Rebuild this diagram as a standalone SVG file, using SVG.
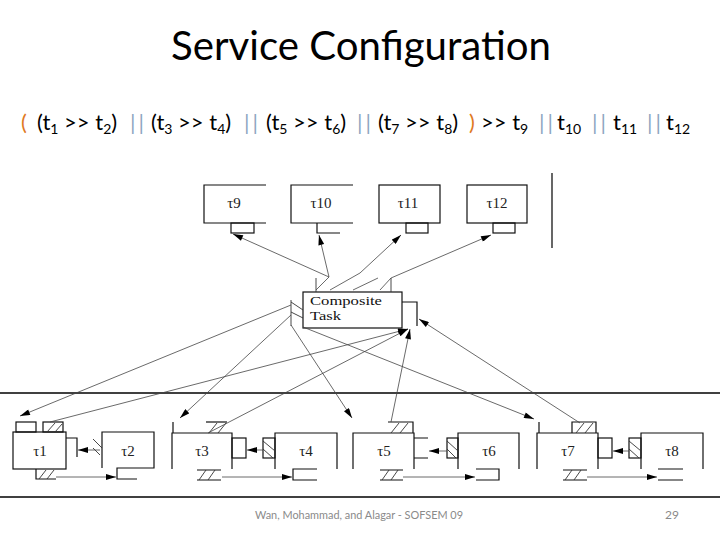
<svg xmlns="http://www.w3.org/2000/svg" width="720" height="540" viewBox="0 0 720 540">
<style>
.ln{fill:none;stroke:#111;stroke-width:1.2}
.ht{fill:none;stroke:#333;stroke-width:0.9}
.cn{fill:none;stroke:#444;stroke-width:0.8}
.lb{font-family:"Liberation Serif","DejaVu Serif",serif;font-size:15px;fill:#222;text-anchor:middle}
.ft{font-family:Lato,"Liberation Sans",sans-serif}
.bar{fill:#8FA8C2}
.org{fill:#E07A1F}
</style>
<defs>
<marker id="ah" viewBox="0 0 10 6" refX="10" refY="3" markerWidth="11" markerHeight="6" orient="auto" markerUnits="userSpaceOnUse">
<path d="M0,0 L10,3 L0,6 z" fill="#000"/>
</marker>
</defs>
<rect width="720" height="540" fill="#fff"/>

<text class="ft" x="361" y="60" font-size="40" text-anchor="middle" textLength="380" lengthAdjust="spacingAndGlyphs" fill="#000">Service Configuration</text>

<g id="formula" class="ft" font-size="22" fill="#000">
<text x="21" y="130" class="org">(</text>
<text x="37" y="130">(t<tspan font-size="14" dy="4">1</tspan><tspan dy="-4"> &gt;&gt; t</tspan><tspan font-size="14" dy="4">2</tspan><tspan dy="-4">)</tspan></text>
<text x="130" y="130" class="bar" letter-spacing="3">||</text>
<text x="151" y="130">(t<tspan font-size="14" dy="4">3</tspan><tspan dy="-4"> &gt;&gt; t</tspan><tspan font-size="14" dy="4">4</tspan><tspan dy="-4">)</tspan></text>
<text x="244" y="130" class="bar" letter-spacing="3">||</text>
<text x="266" y="130">(t<tspan font-size="14" dy="4">5</tspan><tspan dy="-4"> &gt;&gt; t</tspan><tspan font-size="14" dy="4">6</tspan><tspan dy="-4">)</tspan></text>
<text x="357" y="130" class="bar" letter-spacing="3">||</text>
<text x="378" y="130">(t<tspan font-size="14" dy="4">7</tspan><tspan dy="-4"> &gt;&gt; t</tspan><tspan font-size="14" dy="4">8</tspan><tspan dy="-4">)</tspan></text>
<text x="469" y="130" class="org">)</text>
<text x="481" y="130">&gt;&gt; t<tspan font-size="14" dy="4">9</tspan></text>
<text x="539" y="130" class="bar" letter-spacing="3">||</text>
<text x="557" y="130">t<tspan font-size="14" dy="4">10</tspan></text>
<text x="592" y="130" class="bar" letter-spacing="3">||</text>
<text x="613" y="130">t<tspan font-size="14" dy="4">11</tspan></text>
<text x="647" y="130" class="bar" letter-spacing="3">||</text>
<text x="666" y="130">t<tspan font-size="14" dy="4">12</tspan></text>
</g>

<!-- frame lines -->
<g id="frame">
<line x1="0" y1="393" x2="720" y2="393" stroke="#000" stroke-width="1.4"/>
<line x1="0" y1="497" x2="720" y2="497" stroke="#000" stroke-width="1.4"/>
<line x1="552" y1="173" x2="552" y2="248" stroke="#000" stroke-width="1.2"/>
</g>

<!-- top nodes -->
<g id="t9"><path class="ln" d="M266,185 H204 V223 H266"/><rect class="ln" x="231" y="223" width="23" height="10"/><text class="lb" x="234" y="208">τ9</text></g>
<g id="t10"><path class="ln" d="M353,185 H291 V223 H353 M317,223 V233 H340"/><text class="lb" x="321" y="208">τ10</text></g>
<g id="t11"><rect class="ln" x="379" y="185" width="61" height="38"/><rect class="ln" x="406" y="223" width="22" height="10"/><text class="lb" x="408" y="208">τ11</text></g>
<g id="t12"><rect class="ln" x="467" y="185" width="60" height="38"/><rect class="ln" x="493" y="223" width="22" height="10"/><text class="lb" x="497" y="208">τ12</text></g>

<!-- composite -->
<g id="composite">
<rect class="ln" x="303" y="292" width="99" height="36"/>
<path class="ln" d="M402,302 H417 V326"/>
<path class="ht" d="M316,278 V292 M391,278 V292 M291,300 V326 M291,302 L303,310 M291,312 L303,318"/>
<text x="310" y="305" font-family="Liberation Serif,DejaVu Serif,serif" font-size="12" textLength="72" lengthAdjust="spacingAndGlyphs" fill="#111">Composite</text>
<text x="310" y="320" font-family="Liberation Serif,DejaVu Serif,serif" font-size="12" textLength="31" lengthAdjust="spacingAndGlyphs" fill="#111">Task</text>
</g>

<!-- bottom group 1 -->
<g id="t1">
<rect class="ln" x="13" y="432" width="53" height="37"/>
<rect class="ln" x="16" y="422" width="20" height="10"/>
<rect class="ln" x="43" y="422" width="20" height="10"/>
<path class="ht" d="M47,432 L55,423 M55,432 L62,424"/>
<path class="ln" d="M66,438 H77 V457"/>
<path class="ln" d="M36,469 V479 H56"/>
<path class="ht" d="M39,479 L46,470 M47,479 L54,470"/>
<text class="lb" x="40" y="456">τ1</text>
</g>
<g id="t2">
<path class="ln" d="M102,468 V432 H154 V468 H137 M137,468 H117 V479 H137"/>
<path class="ht" d="M93,439 L102,448 M93,448 L100,455"/>
<text class="lb" x="128" y="456">τ2</text>
</g>

<!-- group 2 -->
<g id="t3">
<path class="ln" d="M172,469 V433 H232 V469 M173,422 V433"/>
<path class="ln" d="M206,422 H227"/>
<path class="ht" d="M209,433 L217,423 M218,433 L226,423"/>
<rect class="ln" x="232" y="438" width="14" height="20"/>
<path class="ln" d="M197,470 H221 M197,480 H221"/>
<path class="ht" d="M199,480 L206,470 M208,480 L215,470"/>
<text class="lb" x="202" y="456">τ3</text>
</g>
<g id="t4">
<path class="ln" d="M275,469 V433 H337 V469"/>
<rect class="ln" x="263" y="438" width="12" height="20"/>
<path class="ht" d="M263,441 L275,451 M263,449 L273,458"/>
<path class="ln" d="M317,469 H293 V480 H317"/>
<text class="lb" x="306" y="456">τ4</text>
</g>

<!-- group 3 -->
<g id="t5">
<path class="ln" d="M353,469 V433 H414 V469"/>
<path class="ln" d="M388,422 H413 V433"/>
<path class="ht" d="M391,433 L399,423 M400,433 L408,423"/>
<path class="ln" d="M414,438 H428 M414,458 H428"/>
<path class="ln" d="M380,470 H403 M380,480 H403"/>
<path class="ht" d="M382,480 L389,470 M391,480 L398,470"/>
<text class="lb" x="384" y="456">τ5</text>
</g>
<g id="t6">
<path class="ln" d="M458,469 V433 H519 V469"/>
<rect class="ln" x="447" y="438" width="11" height="20"/>
<path class="ht" d="M447,441 L458,451 M447,449 L456,458"/>
<path class="ln" d="M476,469 H499 V480 H476"/>
<text class="lb" x="489" y="456">τ6</text>
</g>

<!-- group 4 -->
<g id="t7">
<path class="ln" d="M537,469 V433 H598 V469 M539,422 V433"/>
<path class="ln" d="M572,433 V422 H596 V433"/>
<path class="ht" d="M576,433 L584,423 M585,433 L593,423"/>
<rect class="ln" x="598" y="438" width="14" height="20"/>
<path class="ln" d="M563,470 H587 M563,480 H587"/>
<path class="ht" d="M565,480 L572,470 M574,480 L581,470"/>
<text class="lb" x="568" y="456">τ7</text>
</g>
<g id="t8">
<path class="ln" d="M641,469 V433 H703 V469"/>
<rect class="ln" x="629" y="438" width="12" height="20"/>
<path class="ht" d="M629,441 L641,451 M629,449 L639,458"/>
<path class="ln" d="M658,469 H683 M658,480 H683"/>
<text class="lb" x="672" y="456">τ8</text>
</g>

<!-- connectors -->
<g id="connectors">
<path class="cn" d="M316,290 L329,277"/>
<path class="cn" d="M329,277 L233,234" marker-end="url(#ah)"/>
<path class="cn" d="M329,277 L319,235" marker-end="url(#ah)"/>
<path class="cn" d="M330,290 L360,273 L401,235" marker-end="url(#ah)"/>
<path class="cn" d="M353,290 L378,278"/>
<path class="cn" d="M380,290 L391,278 L491,235" marker-end="url(#ah)"/>

<path class="cn" d="M291,305 L20,416" marker-end="url(#ah)"/>
<path class="cn" d="M291,315 L180,418" marker-end="url(#ah)"/>
<path class="cn" d="M291,325 L352,418" marker-end="url(#ah)"/>
<path class="cn" d="M303,327 L534,419" marker-end="url(#ah)"/>

<path class="cn" d="M50,422 L408,329" marker-end="url(#ah)"/>
<path class="cn" d="M208,433 L408,329" marker-end="url(#ah)"/>
<path class="cn" d="M391,422 L410,329" marker-end="url(#ah)"/>
<path class="cn" d="M580,423 L419,319" marker-end="url(#ah)"/>

<path class="cn" d="M100,450 L78,450" marker-end="url(#ah)"/>
<path class="cn" d="M263,450 L247,450" marker-end="url(#ah)"/>
<path class="cn" d="M447,451 L429,451" marker-end="url(#ah)"/>
<path class="cn" d="M629,451 L613,451" marker-end="url(#ah)"/>

<path class="cn" d="M56,477 L116,477" marker-end="url(#ah)"/>
<path class="cn" d="M222,477 L292,477" marker-end="url(#ah)"/>
<path class="cn" d="M403,477 L475,477" marker-end="url(#ah)"/>
<path class="cn" d="M587,477 L657,477" marker-end="url(#ah)"/>
</g>

<text class="ft" x="255" y="519" font-size="12" fill="#8A8A8A" textLength="208" lengthAdjust="spacingAndGlyphs">Wan, Mohammad, and Alagar - SOFSEM 09</text>
<text class="ft" x="665" y="519" font-size="12" fill="#8A8A8A">29</text>
</svg>
